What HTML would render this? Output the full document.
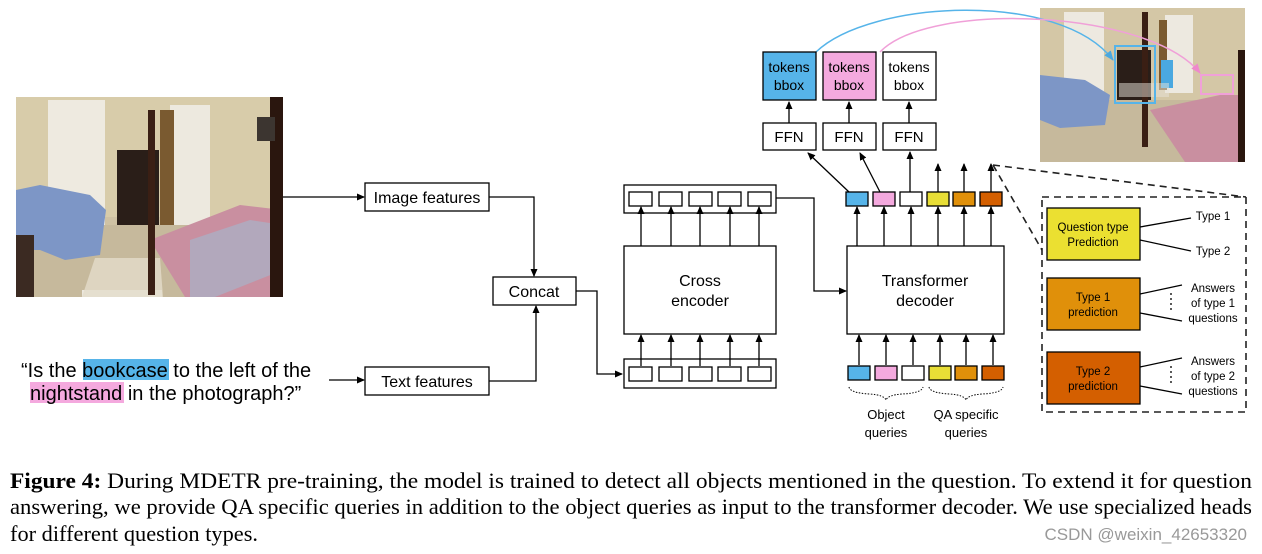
<!DOCTYPE html>
<html><head><meta charset="utf-8"><style>
html,body{margin:0;padding:0;background:#fff;}
svg{display:block;}
.s{font-family:"Liberation Sans",sans-serif;}
.r{font-family:"Liberation Serif",serif;}
</style></head><body>
<svg width="1262" height="554" viewBox="0 0 1262 554" xmlns="http://www.w3.org/2000/svg">
<defs>
<marker id="a" markerWidth="8" markerHeight="8" refX="7" refY="4" orient="auto" markerUnits="userSpaceOnUse"><path d="M0,0.5 L8,4 L0,7.5 z" fill="#000"/></marker>
<marker id="ab" markerWidth="10" markerHeight="8" refX="9" refY="4" orient="auto" markerUnits="userSpaceOnUse"><path d="M0,0 L10,4 L0,8 z" fill="#4aa8e0"/></marker>
<marker id="ap" markerWidth="10" markerHeight="8" refX="9" refY="4" orient="auto" markerUnits="userSpaceOnUse"><path d="M0,0 L10,4 L0,8 z" fill="#ee88cc"/></marker>
</defs>
<rect width="1262" height="554" fill="#fff"/>
<!-- left photo -->
<g>
<rect x="16" y="97" width="267" height="200" fill="#cfc2a4"/>
<rect x="16" y="97" width="267" height="120" fill="#d8ccaa"/>
<rect x="48" y="100" width="57" height="135" fill="#eeeae0"/>
<rect x="170" y="105" width="40" height="135" fill="#ede9df"/>
<rect x="160" y="110" width="14" height="120" fill="#7a5a30"/>
<rect x="117" y="150" width="42" height="75" fill="#2a1e18"/>
<rect x="16" y="225" width="267" height="72" fill="#c6b99c"/>
<path d="M16,190 L40,185 L90,195 L106,210 L100,255 L65,260 L40,250 L16,250 z" fill="#7d96c6"/>
<rect x="82" y="290" width="80" height="7" fill="#ece8de"/>
<path d="M82,297 L95,258 L160,258 L163,297 z" fill="#e4dccb" opacity="0.8"/>
<path d="M150,240 L240,205 L283,210 L283,297 L185,297 z" fill="#c98fa0"/>
<path d="M190,240 L250,220 L283,225 L283,270 L215,297 L190,297 z" fill="#a8b2c8" opacity="0.7"/>
<rect x="148" y="110" width="7" height="185" fill="#3a1f14"/>
<rect x="270" y="97" width="13" height="200" fill="#2a160e"/>
<rect x="16" y="235" width="18" height="62" fill="#3b2a22"/>
<rect x="257" y="117" width="18" height="24" fill="#3c3530"/>
</g>
<!-- right photo -->
<g>
<rect x="1040" y="8" width="205" height="154" fill="#d4c7a6"/>
<rect x="1064" y="12" width="40" height="88" fill="#ede9e0"/>
<rect x="1165" y="15" width="28" height="78" fill="#ede9e0"/>
<rect x="1159" y="20" width="8" height="70" fill="#7a5a30"/>
<rect x="1040" y="100" width="205" height="62" fill="#c6b99c"/>
<path d="M1040,75 L1085,80 L1110,95 L1105,125 L1060,128 L1040,120 z" fill="#7d96c6"/>
<rect x="1117" y="50" width="34" height="50" fill="#2a1e18"/>
<rect x="1161" y="60" width="12" height="28" fill="#4aa8e0"/>
<path d="M1150,110 L1220,95 L1245,95 L1245,162 L1185,162 z" fill="#c98fa0"/>
<rect x="1142" y="12" width="6" height="135" fill="#3a1f14"/>
<rect x="1238" y="50" width="7" height="112" fill="#2a160e"/>
<rect x="1119" y="83" width="50" height="14" fill="#e8e4da" opacity="0.5"/>
<rect x="1115" y="46" width="40" height="57" fill="none" stroke="#56b4e9" stroke-width="2"/>
<rect x="1201" y="75" width="32" height="19" fill="none" stroke="#f0a0d8" stroke-width="2"/>
</g>
<!-- curved arrows -->
<path d="M816,52 C870,0 1060,-10 1113,60" fill="none" stroke="#56b4e9" stroke-width="1.5" marker-end="url(#ab)"/>
<path d="M880,52 C930,0 1150,10 1200,73" fill="none" stroke="#f0a0d8" stroke-width="1.5" marker-end="url(#ap)"/>

<g stroke="#000" stroke-width="1.3" fill="none">
<rect x="365" y="183" width="124" height="28" fill="#fff"/>
<rect x="365" y="367" width="124" height="28" fill="#fff"/>
<rect x="493" y="277" width="83" height="28" fill="#fff"/>
<line x1="283" y1="197" x2="364" y2="197" marker-end="url(#a)"/>
<line x1="329" y1="380" x2="364" y2="380" marker-end="url(#a)"/>
<polyline points="489,197 534,197 534,276" marker-end="url(#a)"/>
<polyline points="489,381 536,381 536,306" marker-end="url(#a)"/>
<polyline points="576,291 597,291 597,374 622,374" marker-end="url(#a)"/>
<rect x="624" y="185" width="152" height="28"/>
<rect x="624" y="359" width="152" height="29"/>
<rect x="624" y="246" width="152" height="88"/>
<polyline points="776,198 814,198 814,291 846,291" marker-end="url(#a)"/>
<rect x="847" y="246" width="157" height="88"/>
<rect x="763" y="123" width="53" height="27"/>
<rect x="823" y="123" width="53" height="27"/>
<rect x="883" y="123" width="53" height="27"/>
<rect x="763" y="52" width="53" height="48" fill="#56b4e9"/>
<rect x="823" y="52" width="53" height="48" fill="#f4a9de"/>
<rect x="883" y="52" width="53" height="48" fill="#fff"/>
<line x1="789" y1="123" x2="789" y2="102" marker-end="url(#a)"/>
<line x1="849" y1="123" x2="849" y2="102" marker-end="url(#a)"/>
<line x1="909" y1="123" x2="909" y2="102" marker-end="url(#a)"/>
<line x1="849" y1="192" x2="808" y2="153" marker-end="url(#a)"/>
<line x1="880" y1="192" x2="860" y2="153" marker-end="url(#a)"/>
<line x1="910" y1="192" x2="910" y2="152" marker-end="url(#a)"/>
<line x1="938" y1="192" x2="938" y2="164" marker-end="url(#a)"/>
<line x1="964" y1="192" x2="964" y2="164" marker-end="url(#a)"/>
<line x1="991" y1="192" x2="991" y2="164" marker-end="url(#a)"/>
</g>
<g stroke="#000" stroke-width="1.3" fill="#fff">
<rect x="629" y="192" width="23" height="14"/><rect x="659" y="192" width="23" height="14"/><rect x="689" y="192" width="23" height="14"/><rect x="718" y="192" width="23" height="14"/><rect x="748" y="192" width="23" height="14"/>
<rect x="629" y="367" width="23" height="14"/><rect x="659" y="367" width="23" height="14"/><rect x="689" y="367" width="23" height="14"/><rect x="718" y="367" width="23" height="14"/><rect x="748" y="367" width="23" height="14"/>
<rect x="846" y="192" width="22" height="14" fill="#56b4e9"/><rect x="873" y="192" width="22" height="14" fill="#f4a9de"/><rect x="900" y="192" width="22" height="14"/><rect x="927" y="192" width="22" height="14" fill="#e8de36"/><rect x="953" y="192" width="22" height="14" fill="#e0900a"/><rect x="980" y="192" width="22" height="14" fill="#d45f00"/>
<rect x="848" y="366" width="22" height="14" fill="#56b4e9"/><rect x="875" y="366" width="22" height="14" fill="#f4a9de"/><rect x="902" y="366" width="22" height="14"/><rect x="929" y="366" width="22" height="14" fill="#e8de36"/><rect x="955" y="366" width="22" height="14" fill="#e0900a"/><rect x="982" y="366" width="22" height="14" fill="#d45f00"/>
</g>
<g stroke="#000" stroke-width="1.3" marker-end="url(#a)">
<line x1="641" y1="246" x2="641" y2="207"/><line x1="671" y1="246" x2="671" y2="207"/><line x1="700" y1="246" x2="700" y2="207"/><line x1="730" y1="246" x2="730" y2="207"/><line x1="759" y1="246" x2="759" y2="207"/>
<line x1="641" y1="366" x2="641" y2="335"/><line x1="671" y1="366" x2="671" y2="335"/><line x1="700" y1="366" x2="700" y2="335"/><line x1="730" y1="366" x2="730" y2="335"/><line x1="759" y1="366" x2="759" y2="335"/>
<line x1="857" y1="246" x2="857" y2="207"/><line x1="884" y1="246" x2="884" y2="207"/><line x1="911" y1="246" x2="911" y2="207"/><line x1="938" y1="246" x2="938" y2="207"/><line x1="964" y1="246" x2="964" y2="207"/><line x1="991" y1="246" x2="991" y2="207"/>
<line x1="859" y1="365" x2="859" y2="335"/><line x1="886" y1="365" x2="886" y2="335"/><line x1="913" y1="365" x2="913" y2="335"/><line x1="940" y1="365" x2="940" y2="335"/><line x1="966" y1="365" x2="966" y2="335"/><line x1="993" y1="365" x2="993" y2="335"/>
</g>
<path d="M849,387 Q850,393 870,394 Q884,395 886,400 Q888,395 902,394 Q922,393 923,387" fill="none" stroke="#000" stroke-width="1" stroke-dasharray="1.5,1.5"/>
<path d="M929,387 Q930,393 950,394 Q964,395 966,400 Q968,395 982,394 Q1002,393 1003,387" fill="none" stroke="#000" stroke-width="1" stroke-dasharray="1.5,1.5"/>
<g stroke="#222" stroke-width="1.6" fill="none" stroke-dasharray="7,5">
<rect x="1042" y="197" width="204" height="215"/>
<line x1="993" y1="165" x2="1246" y2="197"/>
<line x1="993" y1="165" x2="1042" y2="250"/>
</g>
<g stroke="#000" stroke-width="1.3">
<rect x="1047" y="208" width="93" height="52" fill="#ebe031"/>
<rect x="1047" y="278" width="93" height="52" fill="#e0900a"/>
<rect x="1047" y="352" width="93" height="52" fill="#d45f00"/>
<line x1="1140" y1="227" x2="1191" y2="218"/><line x1="1140" y1="240" x2="1191" y2="251"/>
<line x1="1140" y1="294" x2="1182" y2="285"/><line x1="1140" y1="313" x2="1182" y2="321"/>
<line x1="1140" y1="367" x2="1182" y2="358"/><line x1="1140" y1="386" x2="1182" y2="394"/>
</g>
<g stroke="#000" stroke-width="1.3" stroke-dasharray="2,3">
<line x1="1171" y1="293" x2="1171" y2="313"/><line x1="1171" y1="366" x2="1171" y2="386"/>
</g>
<g class="s" font-size="16" fill="#000" text-anchor="middle">
<text x="427" y="203">Image features</text>
<text x="427" y="387">Text features</text>
<text x="534" y="297">Concat</text>
<text x="700" y="286">Cross</text><text x="700" y="306">encoder</text>
<text x="925" y="286">Transformer</text><text x="925" y="306">decoder</text>
<text x="789" y="142" font-size="15">FFN</text><text x="849" y="142" font-size="15">FFN</text><text x="909" y="142" font-size="15">FFN</text>
<g font-size="14"><text x="789" y="72">tokens</text><text x="789" y="90">bbox</text><text x="849" y="72">tokens</text><text x="849" y="90">bbox</text><text x="909" y="72">tokens</text><text x="909" y="90">bbox</text></g>
<g font-size="13"><text x="886" y="419">Object</text><text x="886" y="437">queries</text><text x="966" y="419">QA specific</text><text x="966" y="437">queries</text></g>
<g font-size="11.5"><text x="1093" y="231">Question type</text><text x="1093" y="246">Prediction</text>
<text x="1093" y="301">Type 1</text><text x="1093" y="316">prediction</text>
<text x="1093" y="375">Type 2</text><text x="1093" y="390">prediction</text>
<text x="1213" y="220">Type 1</text><text x="1213" y="255">Type 2</text>
<text x="1213" y="292">Answers</text><text x="1213" y="307">of type 1</text><text x="1213" y="322">questions</text>
<text x="1213" y="365">Answers</text><text x="1213" y="380">of type 2</text><text x="1213" y="395">questions</text></g>
</g>
<rect x="83" y="359" width="86" height="21" fill="#56b4e9"/>
<rect x="30" y="382" width="94" height="21" fill="#f4a9de"/>
<g class="s" font-size="20" fill="#000">
<text x="21" y="377">“Is the bookcase to the left of the</text>
<text x="30" y="400">nightstand in the photograph?”</text>
</g>
<g class="r" font-size="22" fill="#000">
<text x="10" y="488" textLength="1242" lengthAdjust="spacingAndGlyphs"><tspan font-weight="bold">Figure 4:</tspan> During MDETR pre-training, the model is trained to detect all objects mentioned in the question.  To extend it for question</text>
<text x="10" y="514" textLength="1242" lengthAdjust="spacingAndGlyphs">answering, we provide QA specific queries in addition to the object queries as input to the transformer decoder. We use specialized heads</text>
<text x="10" y="541" textLength="248" lengthAdjust="spacingAndGlyphs">for different question types.</text>
</g>
<text x="1247" y="540" text-anchor="end" class="s" font-size="17" fill="#999">CSDN @weixin_42653320</text>
</svg>
</body></html>
